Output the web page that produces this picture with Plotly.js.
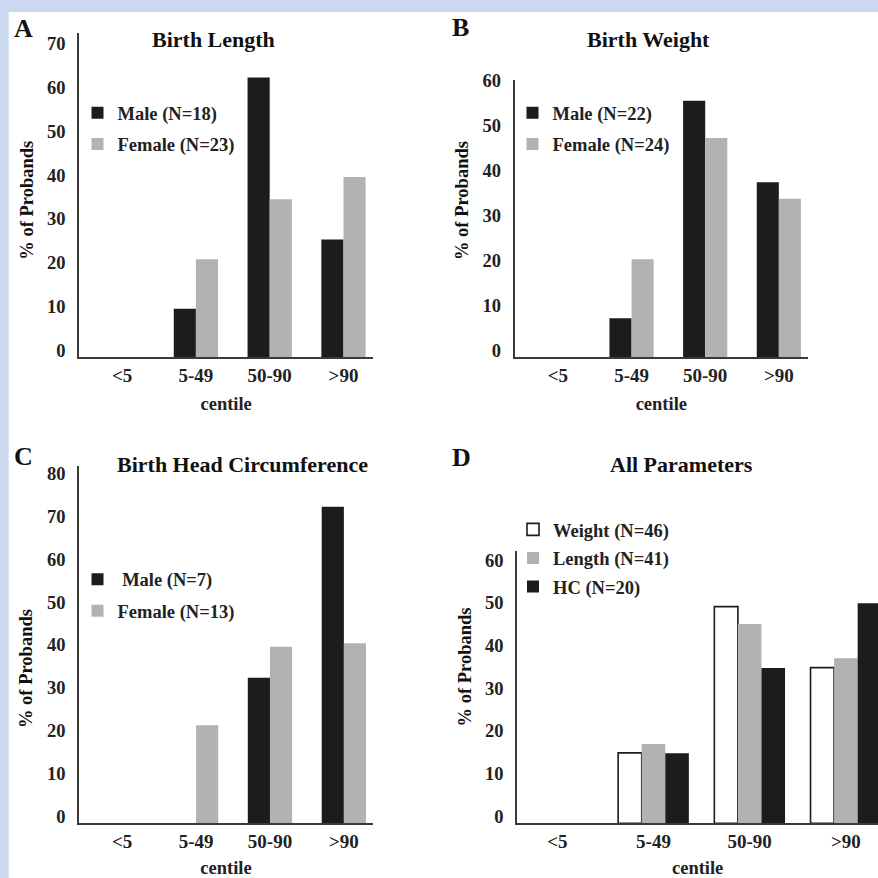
<!DOCTYPE html>
<html>
<head>
<meta charset="utf-8">
<script src="https://cdn.plot.ly/plotly-3.0.1.min.js"></script>
<style>html,body{margin:0;padding:0;background:#fff;}#chart{width:878px;height:878px;}</style>
</head>
<body>
<div id="chart"></div>
<script>
// ---- data ----
const categories = ['<5', '5-49', '50-90', '>90'];

const lengthMale = [0, 11.1, 63.9, 26.9];
const lengthFemale = [0, 22.4, 36.1, 41.2];

const weightMale = [0, 8.7, 57.0, 38.9];
const weightFemale = [0, 21.8, 48.7, 35.2];

const hcMale = [0, 0, 34.0, 73.9];
const hcFemale = [0, 22.9, 41.2, 42.0];

const allWeight = [0, 16.5, 50.8, 36.5];
const allLength = [0, 18.6, 46.7, 38.7];
const allHC = [0, 16.4, 36.4, 51.6];

const yTicksA = [0, 10, 20, 30, 40, 50, 60, 70];
const yTicksB = [0, 10, 20, 30, 40, 50, 60];
const yTicksC = [0, 10, 20, 30, 40, 50, 60, 70, 80];
const yTicksD = [0, 10, 20, 30, 40, 50, 60];

// ---- styling ----
const W = 878, H = 878;
const px = v => v / W;
const py = v => 1 - v / H;
const SERIF = 'Liberation Serif, Times New Roman, DejaVu Serif, serif';
const BLACK = '#1c1c1c', GRAY = '#b2b2b2';

function bar(name, y, color, xa, ya, lg, grp, extra) {
  return Object.assign({
    type: 'bar', name: name, x: categories, y: y,
    xaxis: xa, yaxis: ya, legend: lg, legendgroup: grp,
    marker: {color: color, line: {width: 0}},
    hoverinfo: 'skip'
  }, extra || {});
}

// Outlined (white) bars: list the zero-valued "<5" point last so that the legend
// icon takes its outline from a drawn bar, and no outline is drawn for the empty bar.
const rot = a => a.slice(1).concat(a.slice(0, 1));
const weightOutline = allWeight.map(v => (v > 0 ? 1.6 : 0));

const DW = 0.245; // bar width in panel D (category units)
const traces = [
  bar('Male (N=18)', lengthMale, BLACK, 'x', 'y', 'legend', 'a1'),
  bar('Female (N=23)', lengthFemale, GRAY, 'x', 'y', 'legend', 'a2'),
  bar('Male (N=22)', weightMale, BLACK, 'x2', 'y2', 'legend2', 'b1'),
  bar('Female (N=24)', weightFemale, GRAY, 'x2', 'y2', 'legend2', 'b2'),
  bar('\u00a0Male (N=7)', hcMale, BLACK, 'x3', 'y3', 'legend3', 'c1'),
  bar('Female (N=13)', hcFemale, GRAY, 'x3', 'y3', 'legend3', 'c2'),
  bar('Weight (N=46)', rot(allWeight), '#ffffff', 'x4', 'y4', 'legend4', 'd1',
      {x: rot(categories),
       marker: {color: '#ffffff', line: {width: rot(weightOutline), color: '#1c1c1c'}},
       width: DW, offset: -1.5 * DW}),
  bar('Length (N=41)', allLength, GRAY, 'x4', 'y4', 'legend4', 'd2',
      {width: DW, offset: -0.5 * DW}),
  bar('HC (N=20)', allHC, BLACK, 'x4', 'y4', 'legend4', 'd3',
      {width: DW, offset: 0.5 * DW})
];

const tickFontY = {family: SERIF, size: 18.5, color: '#222', weight: 'bold'};
const tickFontX = {family: SERIF, size: 19, color: '#222', weight: 'bold'};
const titleFont = {family: SERIF, size: 18.5, color: '#222', weight: 'bold'};

function xAxis(domain, range, anchor) {
  return {
    domain: domain, range: range, anchor: anchor, type: 'category',
    categoryorder: 'array', categoryarray: categories,
    showline: true, linecolor: '#3a3a3a', linewidth: 2,
    showgrid: false, zeroline: false, ticks: '', tickfont: tickFontX,
    ticklabelstandoff: 0,
    title: {text: 'centile', font: titleFont, standoff: 12},
    fixedrange: true
  };
}
function yAxis(domain, range, anchor, tickvals) {
  return {
    domain: domain, range: range, anchor: anchor,
    tickvals: tickvals,
    showline: true, linecolor: '#3a3a3a', linewidth: 2,
    showgrid: false, zeroline: false, ticks: '', tickfont: tickFontY,
    ticklabelshift: -7, ticklabelstandoff: 8,
    fixedrange: true
  };
}

function legendAt(xpx, ypx, gap) {
  return {
    x: px(xpx), y: py(ypx), xanchor: 'left', yanchor: 'top',
    xref: 'paper', yref: 'paper',
    bgcolor: 'rgba(0,0,0,0)', borderwidth: 0,
    font: {family: SERIF, size: 18.5, color: '#222', weight: 'bold'},
    traceorder: 'grouped', tracegroupgap: gap
  };
}

function ann(text, xpx, ypx, size, extra) {
  return Object.assign({
    text: text, xref: 'paper', yref: 'paper', x: px(xpx), y: py(ypx),
    xanchor: 'center', yanchor: 'middle', showarrow: false,
    font: {family: SERIF, size: size, color: '#111', weight: 'bold'}
  }, extra || {});
}

const layout = {
  width: W, height: H,
  margin: {l: 0, r: 0, t: 0, b: 0},
  paper_bgcolor: '#cbd8f0',
  plot_bgcolor: 'rgba(0,0,0,0)',
  showlegend: true,
  barmode: 'group',
  bargap: 0.4,
  bargroupgap: 0,
  xaxis:  xAxis([px(79.3), px(373)], [-0.58, 3.40], 'y'),
  yaxis:  yAxis([py(357.3), py(33.3)], [0, 74.0], 'x', yTicksA),
  xaxis2: xAxis([px(514.7), px(808)], [-0.587, 3.396], 'y2'),
  yaxis2: yAxis([py(357.3), py(80)], [0, 61.6], 'x2', yTicksB),
  xaxis3: xAxis([px(79.3), px(372.7)], [-0.58, 3.39], 'y3'),
  yaxis3: yAxis([py(823.3), py(466)], [0, 83.4], 'x3', yTicksC),
  xaxis4: xAxis([px(517.3), 1], [-0.416, 3.334], 'y4'),
  yaxis4: yAxis([py(823.3), py(550.7)], [0, 63.9], 'x4', yTicksD),
  legend:  legendAt(77.5, 94.3, 4.2),
  legend2: legendAt(512.5, 94.3, 4.2),
  legend3: legendAt(77.5, 560.7, 4.5),
  legend4: legendAt(513, 510.8, 1.5),
  shapes: [
    {type: 'rect', xref: 'paper', yref: 'paper', layer: 'below',
     x0: px(8.7), x1: 1, y0: 0, y1: py(12),
     fillcolor: '#ffffff', line: {width: 0}}
  ],
  annotations: [
    ann('A', 23, 28.7, 26), ann('B', 460.5, 28, 26),
    ann('C', 23, 456.7, 26), ann('D', 461, 457, 26),
    ann('Birth Length', 213, 40, 22),
    ann('Birth Weight', 648.5, 40, 22),
    ann('Birth Head Circumference', 242.8, 464, 22),
    ann('All Parameters', 681.8, 464, 22),
    ann('% of Probands', 26.7, 200, 18.5, {textangle: -90}),
    ann('% of Probands', 461.3, 200.7, 18.5, {textangle: -90}),
    ann('% of Probands', 26.7, 668.3, 18.5, {textangle: -90}),
    ann('% of Probands', 464.7, 666.7, 18.5, {textangle: -90})
  ]
};

Plotly.newPlot('chart', traces, layout, {displayModeBar: false, staticPlot: true});
</script>
</body>
</html>
